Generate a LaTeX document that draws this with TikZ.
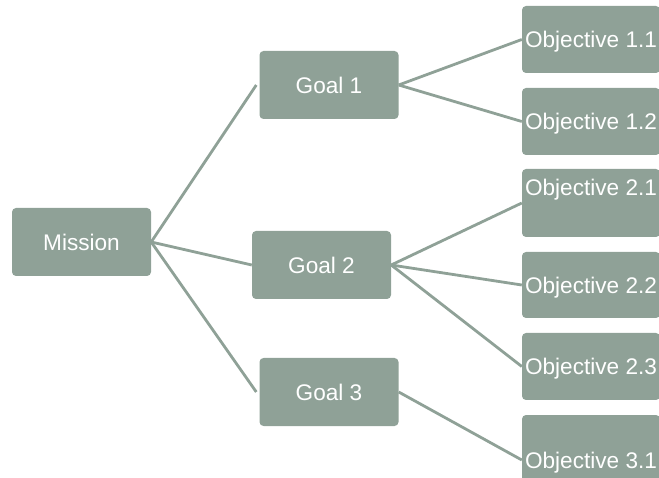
\documentclass[tikz,border=0pt]{standalone}
\usepackage{fontspec}
\setmainfont{Liberation Sans}
\definecolor{boxgreen}{RGB}{143,161,151}
\tikzset{
  box/.style={rectangle, rounded corners=4pt, fill=boxgreen, text=white, inner sep=0pt,
    font=\fontsize{22.6}{27}\selectfont, text height=16.2pt, text depth=0pt},
  goalbox/.style={box, minimum width=139pt, minimum height=68pt},
  objbox/.style={box, minimum width=138pt, minimum height=68pt},
  link/.style={draw=boxgreen, line width=2.8pt}
}
\begin{document}
\begin{tikzpicture}[x=1pt,y=-1pt]
\useasboundingbox (0,0) rectangle (659,478);
\node[goalbox] (mission) at (81.5,242) {Mission};
\node[goalbox] (g1) at (329,85) {Goal 1};
\node[goalbox] (g2) at (321.5,265) {Goal 2};
\node[goalbox] (g3) at (329,392) {Goal 3};
\node[objbox, minimum height=67pt] (o11) at (591,39.5) {Objective 1.1};
\node[objbox, minimum height=67pt] (o12) at (591,121.5) {Objective 1.2};
\node[objbox] (o21) at (591,203) {\raisebox{16pt}[16.2pt][0pt]{Objective 2.1}};
\node[objbox, minimum height=66pt] (o22) at (591,285) {Objective 2.2};
\node[objbox, minimum height=67pt] (o23) at (591,366.5) {Objective 2.3};
\node[objbox, minimum height=90pt] (o31) at (591,460) {Objective 3.1};
\draw[link] (mission.east) -- ([xshift=-3pt]g1.west);
\draw[link] (mission.east) -- (g2.west);
\draw[link] (mission.east) -- ([xshift=-3pt]g3.west);
\draw[link] (g1.east) -- (o11.west);
\draw[link] (g1.east) -- (o12.west);
\draw[link] (g2.east) -- (o21.west);
\draw[link] (g2.east) -- (o22.west);
\draw[link] (g2.east) -- (o23.west);
\draw[link] (g3.east) -- (o31.west);
\end{tikzpicture}
\end{document}
